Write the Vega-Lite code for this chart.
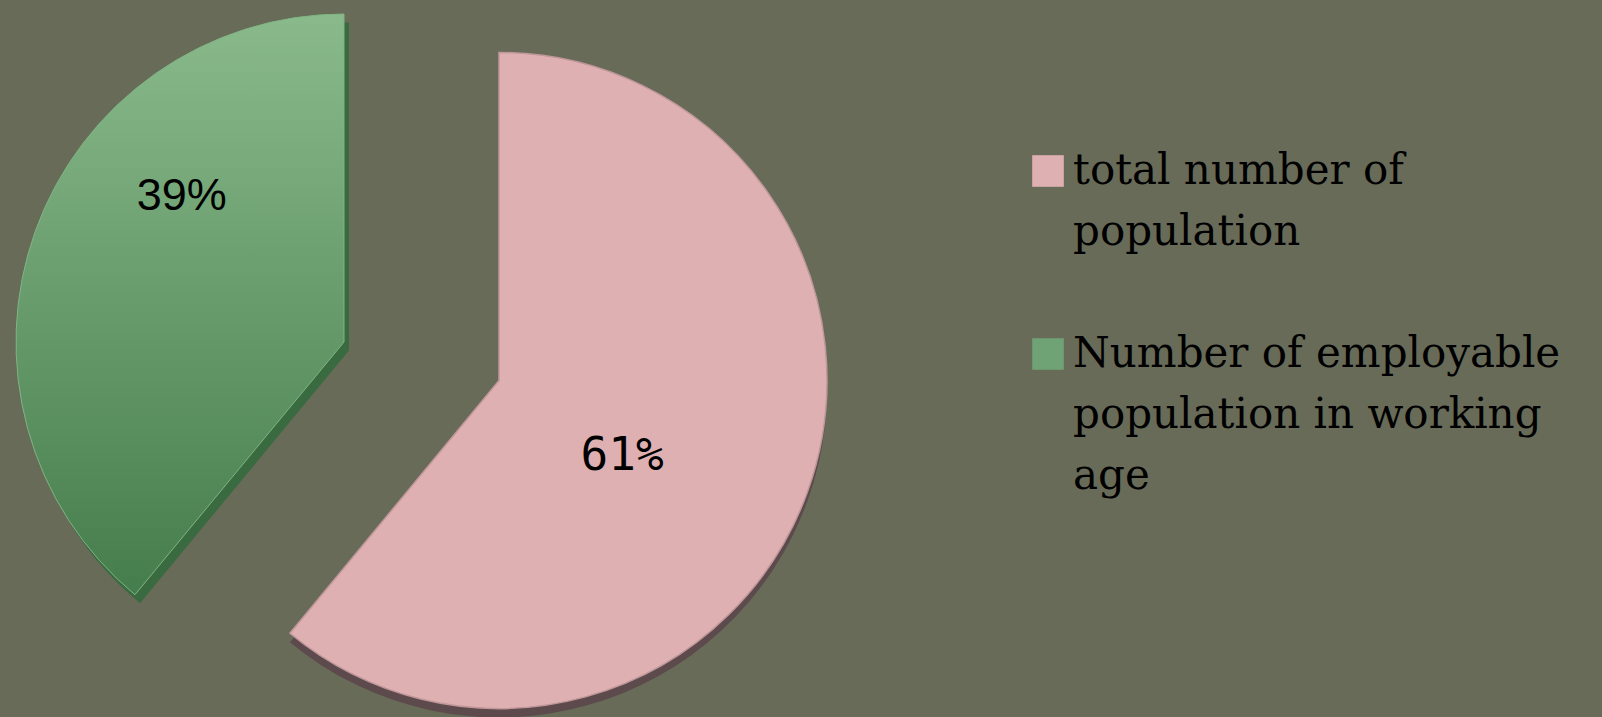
{
  "$schema": "https://vega.github.io/schema/vega-lite/v6.json",
  "width": 998,
  "height": 717,
  "autosize": "none",
  "padding": {"left": 0, "top": 0, "right": 604, "bottom": 0},
  "background": "#686b58",
  "config": {
    "view": {"stroke": null},
    "style": {"guide-label": {"lineHeight": 61}}
  },
  "data": {
    "values": [
      {"category": "total number of population", "value": 61, "label": "61%"},
      {"category": "Number of employable population in  working age", "value": 39, "label": "39%"}
    ]
  },
  "transform": [
    {"stack": "value", "groupby": [], "sort": [{"field": "value", "order": "descending"}], "as": ["v0", "v1"]}
  ],
  "layer": [
    {
      "transform": [{"filter": "datum.value == 61"}],
      "mark": {"type": "arc", "outerRadius": 328, "fill": "#5d4a4c", "xOffset": 0, "yOffset": 31},
      "encoding": {
        "theta": {"field": "v0", "type": "quantitative", "scale": {"domain": [0, 100]}},
        "theta2": {"field": "v1"}
      }
    },
    {
      "transform": [{"filter": "datum.value == 61"}],
      "mark": {"type": "arc", "outerRadius": 328, "stroke": "#c0979a", "strokeWidth": 1.5, "xOffset": 0, "yOffset": 22},
      "encoding": {
        "theta": {"field": "v0", "type": "quantitative", "scale": {"domain": [0, 100]}},
        "theta2": {"field": "v1"},
        "color": {
          "field": "category",
          "type": "nominal",
          "scale": {
            "domain": ["total number of population", "Number of employable population in  working age"],
            "range": ["#deb0b1", "#6fa274"]
          },
          "legend": {
            "orient": "none",
            "legendX": 1027,
            "legendY": 150,
            "title": null,
            "padding": 0,
            "symbolType": "square",
            "symbolSize": 1000,
            "symbolStrokeWidth": 0,
            "labelFont": "DejaVu Serif",
            "labelFontSize": 42,
            "labelColor": "#000000",
            "labelLimit": 600,
            "labelOffset": 4,
            "rowPadding": 80,
            "labelExpr": "datum.label == 'total number of population' ? ['total number of', 'population'] : ['Number of employable', 'population in  working', 'age']"
          }
        }
      }
    },
    {
      "transform": [{"filter": "datum.value == 39"}],
      "mark": {"type": "arc", "outerRadius": 328, "fill": "#3a6a40", "xOffset": -150, "yOffset": -8},
      "encoding": {
        "theta": {"field": "v0", "type": "quantitative", "scale": {"domain": [0, 100]}},
        "theta2": {"field": "v1"}
      }
    },
    {
      "transform": [{"filter": "datum.value == 39"}],
      "mark": {
        "type": "arc",
        "outerRadius": 328,
        "xOffset": -155,
        "yOffset": -16.5,
        "stroke": "#7fb583",
        "strokeWidth": 1,
        "fill": {
          "gradient": "linear",
          "x1": 0, "y1": 0, "x2": 0, "y2": 1,
          "stops": [
            {"offset": 0, "color": "#8aba8c"},
            {"offset": 1, "color": "#467d4c"}
          ]
        }
      },
      "encoding": {
        "theta": {"field": "v0", "type": "quantitative", "scale": {"domain": [0, 100]}},
        "theta2": {"field": "v1"}
      }
    },
    {
      "mark": {"type": "text", "radius": 150, "font": "DejaVu Sans Mono", "fontSize": 46, "color": "#000000", "dx": -18, "dy": 46.6},
      "encoding": {
        "theta": {"field": "value", "type": "quantitative", "stack": true},
        "order": {"field": "value", "sort": "descending"},
        "text": {"condition": {"test": "datum.value == 61", "field": "label"}, "value": ""}
      }
    },
    {
      "mark": {"type": "text", "radius": 200, "font": "Liberation Sans", "fontSize": 45, "color": "#000000", "dx": -129, "dy": -95},
      "encoding": {
        "theta": {"field": "value", "type": "quantitative", "stack": true},
        "order": {"field": "value", "sort": "descending"},
        "text": {"condition": {"test": "datum.value == 39", "field": "label"}, "value": ""}
      }
    }
  ],
  "resolve": {"scale": {"theta": "independent"}}
}
